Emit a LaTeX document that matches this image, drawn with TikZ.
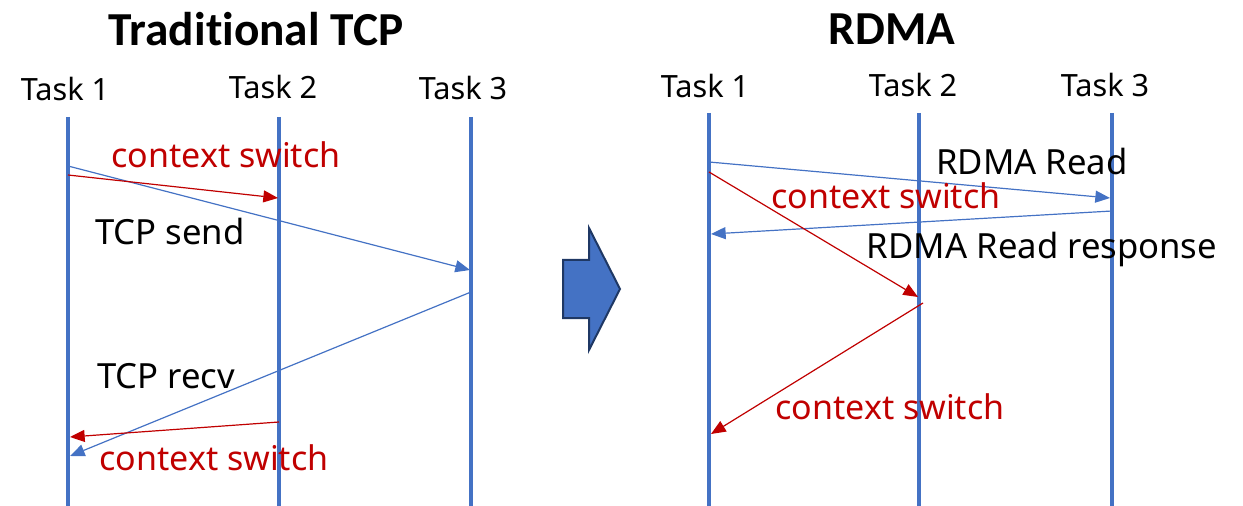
\documentclass[tikz,border=0pt]{standalone}
\usepackage{fontspec}
\setmainfont{Noto Sans}
\newfontfamily\titlefont[Ligatures=NoCommon]{Carlito}
\usetikzlibrary{arrows.meta}
\definecolor{lane}{HTML}{4472C4}
\definecolor{msg}{HTML}{4472C4}
\definecolor{ctx}{HTML}{C00000}
\definecolor{navy}{HTML}{1F3864}
\tikzset{
  lifeline/.style={draw=lane, line width=3pt},
  bluemsg/.style={draw=msg, line width=0.9pt, -{Triangle[length=11pt,width=9pt]}},
  redmsg/.style={draw=ctx, line width=0.9pt, -{Triangle[length=11pt,width=9pt]}},
  tasklabel/.style={font=\fontsize{23}{27}\selectfont, text=black, inner sep=0pt},
  msglabel/.style={font=\fontsize{26}{31}\selectfont, text=black, inner sep=0pt},
  ctxlabel/.style={font=\fontsize{25.5}{30}\selectfont, text=ctx, inner sep=0pt},
  heading/.style={font=\titlefont\bfseries\fontsize{35.5}{40}\selectfont, inner sep=0pt},
}
\begin{document}
\begin{tikzpicture}[x=0.75pt, y=-0.75pt]
\useasboundingbox (0,0) rectangle (1243,506);

% headings
\node[heading] (t1) at (256,29) {Traditional TCP};
\node[heading] (t2) at (892,29) {RDMA};

% ---- traditional TCP lifelines ----
\node[tasklabel] (la) at (65,89) {Task 1};
\node[tasklabel] (lb) at (273,87) {Task 2};
\node[tasklabel] (lc) at (463,88) {Task 3};
\coordinate (a0) at (68,117);  \coordinate (a1) at (68,506);
\coordinate (b0) at (279,117); \coordinate (b1) at (279,506);
\coordinate (c0) at (471,117); \coordinate (c1) at (471,506);
\draw[lifeline] (a0) -- (a1);
\draw[lifeline] (b0) -- (b1);
\draw[lifeline] (c0) -- (c1);

\coordinate (s1) at (68,166);  \coordinate (s2) at (470,270);
\coordinate (w1) at (68,175);  \coordinate (w2) at (278,198);
\coordinate (r1) at (471,292); \coordinate (r2) at (70,456);
\coordinate (v1) at (279,422); \coordinate (v2) at (70,437);
\draw[bluemsg] (s1) -- (s2);
\draw[redmsg] (w1) -- (w2);
\draw[bluemsg] (r1) -- (r2);
\draw[redmsg] (v1) -- (v2);

\node[ctxlabel] (cs1) at (226,155) {context switch};
\node[msglabel] (ts) at (170,232) {TCP send};
\node[msglabel] (tr) at (166,376) {TCP recv};
\node[ctxlabel] (cs2) at (214,458) {context switch};

% ---- transition arrow ----
\draw[fill=lane, draw=navy, line width=1.5pt, line join=miter]
  (563,260) -- (589,260) -- (589,228) -- (620,289) -- (589,350)
  -- (589,318) -- (563,318) -- cycle;

% ---- RDMA lifelines ----
\node[tasklabel] (ra) at (705,86) {Task 1};
\node[tasklabel] (rb) at (913,85) {Task 2};
\node[tasklabel] (rc) at (1105,85) {Task 3};
\coordinate (d0) at (709,113);  \coordinate (d1) at (709,506);
\coordinate (e0) at (919,113);  \coordinate (e1) at (919,506);
\coordinate (f0) at (1112,113); \coordinate (f1) at (1112,506);
\draw[lifeline] (d0) -- (d1);
\draw[lifeline] (e0) -- (e1);
\draw[lifeline] (f0) -- (f1);

\coordinate (q1) at (709,162);  \coordinate (q2) at (1110,198);
\coordinate (p1) at (1112,211); \coordinate (p2) at (711,234);
\coordinate (x1) at (709,172);  \coordinate (x2) at (918,297);
\coordinate (y1) at (923,303);  \coordinate (y2) at (711,434);
\draw[bluemsg] (q1) -- (q2);
\draw[bluemsg] (p1) -- (p2);
\draw[redmsg] (x1) -- (x2);
\draw[redmsg] (y1) -- (y2);

\node[msglabel] (rr) at (1032,162) {RDMA Read};
\node[ctxlabel] (cs3) at (886,196) {context switch};
\node[msglabel] (rp) at (1042,249) {RDMA Read response};
\node[ctxlabel] (cs4) at (890,407) {context switch};
\end{tikzpicture}
\end{document}
